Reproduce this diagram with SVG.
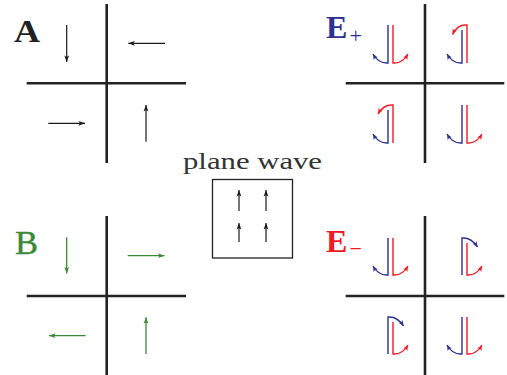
<svg xmlns="http://www.w3.org/2000/svg" width="507" height="375" viewBox="0 0 507 375">
<defs>
<style>
.axis{stroke:#222;stroke-width:2.6;fill:none}
.blk{stroke:#1a1a1a;stroke-width:1.2;fill:none;marker-end:url(#hk)}
.grn{stroke:#3a8a35;stroke-width:1.3;fill:none;marker-end:url(#hg)}
.bl{stroke:#2e3192;stroke-width:1.4;fill:none;marker-end:url(#hb)}
.rd{stroke:#ed1c24;stroke-width:1.4;fill:none;marker-end:url(#hr)}
.lbl{font-family:"Liberation Serif","DejaVu Serif",serif}
</style>
<marker id="hk" viewBox="-7 -4 8 8" refX="0" refY="0" markerWidth="8" markerHeight="8" markerUnits="userSpaceOnUse" orient="auto"><path d="M0,0 L-6.5,-2.4 L-5,0 L-6.5,2.4 Z" fill="#1a1a1a"/></marker>
<marker id="hg" viewBox="-7 -4 8 8" refX="0" refY="0" markerWidth="8" markerHeight="8" markerUnits="userSpaceOnUse" orient="auto"><path d="M0,0 L-6.5,-2.4 L-5,0 L-6.5,2.4 Z" fill="#3a8a35"/></marker>
<marker id="hb" viewBox="-7 -4 8 8" refX="0" refY="0" markerWidth="8" markerHeight="8" markerUnits="userSpaceOnUse" orient="auto"><path d="M0,0 L-5.5,-2.4 L-4.2,0 L-5.5,2.4 Z" fill="#2e3192"/></marker>
<marker id="hr" viewBox="-7 -4 8 8" refX="0" refY="0" markerWidth="8" markerHeight="8" markerUnits="userSpaceOnUse" orient="auto"><path d="M0,0 L-5.5,-2.4 L-4.2,0 L-5.5,2.4 Z" fill="#ed1c24"/></marker>
</defs>
<rect width="507" height="375" fill="#fff"/>

<g id="panel-A">
<line class="axis" x1="106.7" y1="4" x2="106.7" y2="163"/>
<line class="axis" x1="26.7" y1="83.3" x2="186" y2="83.3"/>
<text class="lbl" x="14" y="42" font-size="32" font-weight="bold" fill="#222" textLength="26" lengthAdjust="spacingAndGlyphs">A</text>
<line class="blk" x1="66.7" y1="25" x2="66.7" y2="62"/>
<line class="blk" x1="165" y1="43.3" x2="128.3" y2="43.3"/>
<line class="blk" x1="48.3" y1="123.3" x2="85" y2="123.3"/>
<line class="blk" x1="146" y1="141.7" x2="146" y2="105"/>
</g>

<g id="panel-B">
<line class="axis" x1="106.7" y1="216" x2="106.7" y2="375"/>
<line class="axis" x1="26.7" y1="296" x2="186" y2="296"/>
<text class="lbl" x="15" y="254" font-size="33" fill="#3a8a35" stroke="#3a8a35" stroke-width="0.4" textLength="23" lengthAdjust="spacingAndGlyphs">B</text>
<line class="grn" x1="66.7" y1="237.3" x2="66.7" y2="273.5"/>
<line class="grn" x1="127.7" y1="255.7" x2="164.5" y2="255.7"/>
<line class="grn" x1="85.7" y1="335.7" x2="49" y2="335.7"/>
<line class="grn" x1="146" y1="354" x2="146" y2="317.3"/>
</g>

<g id="plane-wave">
<text class="lbl" x="252.5" y="169" font-size="24" fill="#333" text-anchor="middle" textLength="139" lengthAdjust="spacingAndGlyphs">plane wave</text>
<rect x="212.5" y="179.5" width="80" height="78.5" fill="none" stroke="#222" stroke-width="1.3"/>
<line class="blk" x1="239" y1="211" x2="239" y2="190"/>
<line class="blk" x1="266" y1="211" x2="266" y2="190"/>
<line class="blk" x1="239" y1="242" x2="239" y2="223"/>
<line class="blk" x1="266" y1="242" x2="266" y2="223"/>
</g>

<g id="panel-Eplus">
<line class="axis" x1="425" y1="4" x2="425" y2="163"/>
<line class="axis" x1="345.7" y1="83.3" x2="504.3" y2="83.3"/>
<text class="lbl" x="326" y="38.3" font-size="32" font-weight="bold" fill="#2e3192">E<tspan x="349.5" y="43" font-size="22" font-weight="normal">+</tspan></text>
<path class="bl" d="M388,25 V63 C382,63.5 377,61 373,54"/>
<path class="rd" d="M393,25 V63 C399,63.5 404,61 408,54"/>
<path class="bl" d="M462,30 V63 C456,63.5 451,61 447,54"/>
<path class="rd" d="M467,63 V25 C461,24.5 456,27 452.5,34.5"/>
<path class="bl" d="M388,110 V143 C382,143.5 377,141 373,134"/>
<path class="rd" d="M393,143 V105 C387,104.5 382,107 378,114"/>
<path class="bl" d="M462,105 V143 C456,143.5 451,141 447,134"/>
<path class="rd" d="M467,105 V143 C473,143.5 478,141 482,134"/>
</g>

<g id="panel-Eminus">
<line class="axis" x1="425" y1="216" x2="425" y2="375"/>
<line class="axis" x1="345.7" y1="296" x2="504.3" y2="296"/>
<text class="lbl" x="326" y="251.7" font-size="32" font-weight="bold" fill="#ed1c24">E<tspan x="349.5" y="255.5" font-size="22" font-weight="normal">−</tspan></text>
<path class="bl" d="M388,238 V275 C382,275.5 377,273 373,266"/>
<path class="rd" d="M393,238 V275 C399,275.5 404,273 408,266"/>
<path class="bl" d="M462,275 V238 C468,237.5 473,240 477.5,247"/>
<path class="rd" d="M467,243 V275 C473,275.5 478,273 482,266"/>
<path class="bl" d="M388,354 V317 C394,316.5 399,319 403.5,326"/>
<path class="rd" d="M393,322 V354 C399,354.5 404,352 408,345"/>
<path class="bl" d="M462,317 V354 C456,354.5 451,352 447,345"/>
<path class="rd" d="M467,317 V354 C473,354.5 478,352 482,345"/>
</g>
</svg>
